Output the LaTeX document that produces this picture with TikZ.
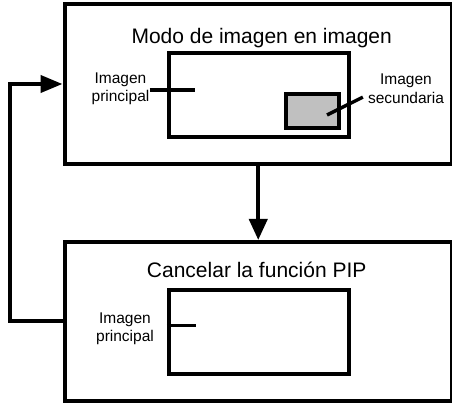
\documentclass[tikz,border=0pt]{standalone}
\usepackage{fontspec}
\setmainfont{Liberation Sans}
\usetikzlibrary{arrows.meta,positioning}
\definecolor{pipGray}{RGB}{192,192,192}

\begin{document}
\begin{tikzpicture}[x=1pt,y=-1pt,
    panel/.style={draw, line width=4pt, minimum width=387.5pt, inner sep=0pt},
    screen/.style={draw, line width=3.6pt, minimum width=180pt, minimum height=84pt, inner sep=0pt},
    caption/.style={inner sep=0pt, font=\fontsize{21}{25}\selectfont},
    tag/.style={inner sep=0pt, align=center, font=\fontsize{15.5}{18.4}\selectfont},
    pointer/.style={line width=3.4pt},
    flow/.style={line width=4pt}]
    \useasboundingbox (0,0) rectangle (452,403);
    % the two states
    \node[panel, minimum height=160pt] (pip) at (258.25,84) {};
    \node[panel, minimum height=158.5pt] (nopip) at (258.25,321.25) {};
    \node[caption, anchor=base] (pipTitle) at (261.7,44) {Modo de imagen en imagen};
    \node[caption, anchor=base] (nopipTitle) at (256.7,277.3) {Cancelar la función PIP};
    % screens
    \node[screen] (mainScreen) at (258.7,95.3) {};
    \node[draw, line width=4pt, fill=pipGray, minimum width=52.7pt, minimum height=34.3pt, inner sep=0pt] (subScreen) at (312.3,110.8) {};
    \node[screen] (aloneScreen) at (258.7,331.7) {};
    % labels
    \node[tag] (mainTag) at (120.5,88.6) {Imagen\\principal};
    \node[tag] (subTag) at (406,88.6) {Imagen\\secundaria};
    \node[tag] (aloneTag) at (125,328.6) {Imagen\\principal};
    \coordinate (mainTip) at (195,90);
    \coordinate (subTip) at (327,115);
    \coordinate (aloneTip) at (196,325.7);
    \draw[pointer] (mainTag.east |- mainTip) -- (mainTip);
    \draw[pointer] ([xshift=-5pt,yshift=-8.5pt]subTag.west) -- (subTip);
    \draw[pointer] (aloneTip -| aloneScreen.west) -- (aloneTip);
    % transitions
    \coordinate (back) at (10,200);
    \draw[flow, -{Triangle[length=21pt,width=18pt]}] (pip.south) -- (nopip.north);
    \draw[flow, -{Triangle[length=22pt,width=17pt]}] (nopip.west) -- (nopip.west -| back) |- (pip.west);
\end{tikzpicture}
\end{document}
